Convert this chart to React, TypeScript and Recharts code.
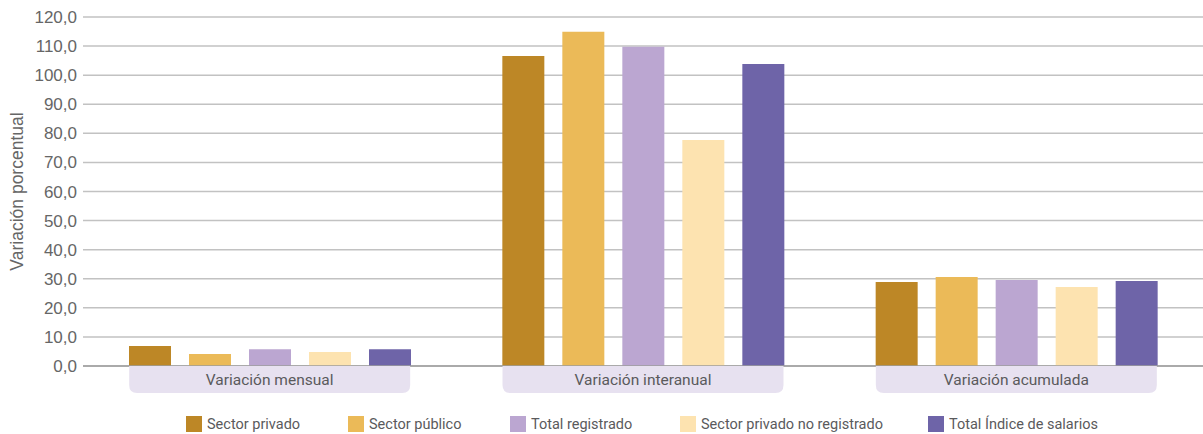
import React from 'react';
import {
    BarChart,
    Bar,
    XAxis,
    YAxis,
    CartesianGrid,
    Legend,
    ReferenceLine,
} from 'recharts';

const categories = ['Variación mensual', 'Variación interanual', 'Variación acumulada'];

const sectorPrivado = [6.9, 106.6, 28.9];
const sectorPublico = [4.1, 114.9, 30.6];
const totalRegistrado = [5.8, 109.8, 29.6];
const privadoNoRegistrado = [4.8, 77.7, 27.2];
const totalIndice = [5.8, 103.8, 29.2];

const yTicks = [0, 10, 20, 30, 40, 50, 60, 70, 80, 90, 100, 110, 120];

const series = [
    { key: 'privado', name: 'Sector privado', color: '#bd8726', values: sectorPrivado },
    { key: 'publico', name: 'Sector público', color: '#ebba58', values: sectorPublico },
    { key: 'registrado', name: 'Total registrado', color: '#bba6d1', values: totalRegistrado },
    { key: 'noRegistrado', name: 'Sector privado no registrado', color: '#fde3b0', values: privadoNoRegistrado },
    { key: 'indice', name: 'Total Índice de salarios', color: '#6e64a8', values: totalIndice },
];

const data = categories.map((name, i) => {
    const row: any = { name };
    series.forEach(s => { row[s.key] = s.values[i]; });
    return row;
});

const TEXT = '#5a5a5c';
const CONDENSED = 'Roboto, "Liberation Sans", sans-serif';
const SANS = '"Liberation Sans", Arial, sans-serif';

// rounded label box under each group
const CategoryTick = ({ x, y, payload }: any) => {
    const w = 281;
    const h = 27;
    const r = 8;
    const left = x - w / 2;
    const right = x + w / 2;
    const d = `M${left},${y} H${right} V${y + h - r} Q${right},${y + h} ${right - r},${y + h} H${left + r} Q${left},${y + h} ${left},${y + h - r} Z`;
    return (
        <g>
            <path d={d} fill="#e7e1f0" />
            <text x={x} y={y + 19} textAnchor="middle" fill={TEXT} fontSize={15.5} fontFamily={CONDENSED}>
                {payload.value}
            </text>
        </g>
    );
};

const YLabel = ({ viewBox }: any) => {
    const cx = 17;
    const cy = viewBox.y + viewBox.height / 2;
    return (
        <text
            x={cx}
            y={cy}
            transform={`rotate(-90, ${cx}, ${cy})`}
            textAnchor="middle"
            dominantBaseline="central"
            fill="#666"
            fontSize={17.5}
            fontFamily={SANS}
        >
            Variación porcentual
        </text>
    );
};

const widths = [162, 162, 170, 248, 220];

const LegendContent = () => (
    <div style={{ display: 'flex', height: 38, paddingTop: 20, boxSizing: 'border-box', paddingLeft: 186 }}>
        {series.map((s, i) => (
            <div key={s.key} style={{ display: 'flex', alignItems: 'center', width: widths[i], height: 16 }}>
                <div style={{ width: 16, height: 16, background: s.color, marginRight: 5 }} />
                <span style={{ fontFamily: CONDENSED, fontSize: 14.5, color: TEXT, whiteSpace: 'nowrap' }}>{s.name}</span>
            </div>
        ))}
    </div>
);

export default function App() {
    return (
        <div style={{ position: 'absolute', left: 0, top: 0, width: 1203, height: 434, overflow: 'hidden' }}>
            <BarChart
                width={1203}
                height={434}
                data={data}
                margin={{ top: 17, right: 0, left: 0, bottom: 0 }}
                barCategoryGap={46}
                barGap={18}
            >
                <CartesianGrid vertical={false} stroke="#c2c2c2" strokeWidth={1.5} />
                <XAxis
                    dataKey="name"
                    axisLine={false}
                    tickLine={false}
                    tickSize={0}
                    tickMargin={0}
                    height={30}
                    interval={0}
                    tick={<CategoryTick />}
                />
                <YAxis
                    domain={[0, 120]}
                    ticks={yTicks}
                    width={83}
                    axisLine={false}
                    tickLine={false}
                    tickSize={0}
                    tickMargin={6}
                    interval={0}
                    tickFormatter={(v: number) => v.toFixed(1).replace('.', ',')}
                    tick={{ fill: '#666', fontSize: 17, fontFamily: SANS }}
                    label={<YLabel />}
                />
                <Legend verticalAlign="bottom" content={<LegendContent />} wrapperStyle={{ left: 0, width: 1203 }} />
                {series.map(s => (
                    <Bar key={s.key} dataKey={s.key} name={s.name} fill={s.color} isAnimationActive={false} />
                ))}
                <ReferenceLine y={0} stroke="#9c9c9c" strokeWidth={1.5} />
            </BarChart>
        </div>
    );
}
